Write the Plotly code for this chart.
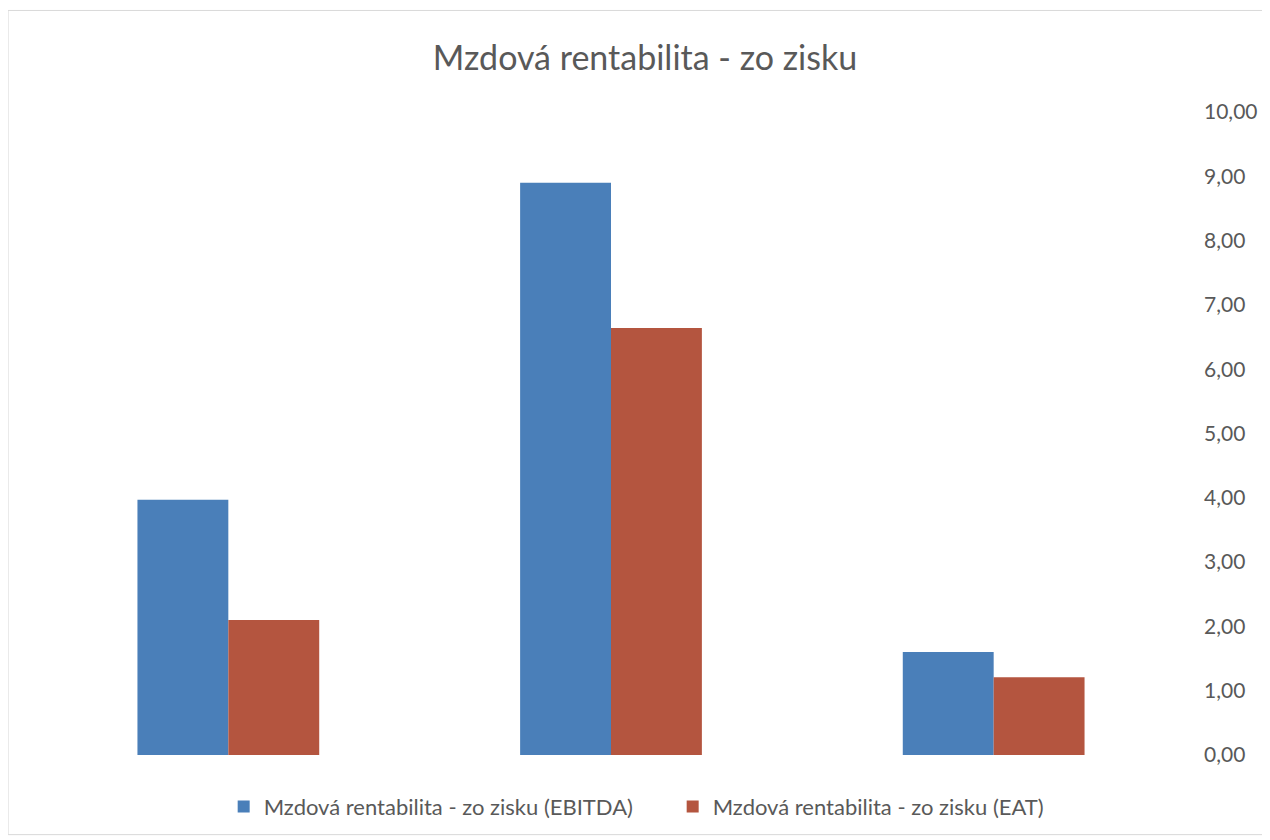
import plotly.graph_objects as go

categories = ["A", "B", "C"]
ebitda = [3.97, 8.90, 1.60]
eat = [2.10, 6.64, 1.21]
series_names = ["Mzdová rentabilita - zo zisku (EBITDA)", "Mzdová rentabilita - zo zisku (EAT)"]
tick_vals = [0, 1, 2, 3, 4, 5, 6, 7, 8, 9, 10]

W, H = 1262, 832
L, T, R, B = 29, 104, 83, 82
pw, ph = W - L - R, H - T - B

fig = go.Figure()
fig.add_trace(go.Bar(x=categories, y=ebitda, name=series_names[0], marker=dict(color="#4a7fb9", line=dict(width=0))))
fig.add_trace(go.Bar(x=categories, y=eat, name=series_names[1], marker=dict(color="#b4553f", line=dict(width=0))))

leg_left_page = 224
fig.update_layout(
    width=W, height=H,
    margin=dict(l=L, r=R, t=T, b=B),
    paper_bgcolor="white", plot_bgcolor="white",
    separators=", ",
    barmode="group", bargap=0.525, bargroupgap=0,
    title=dict(text="Mzdová rentabilita - zo zisku", x=(645 - 8) / W, xanchor="center",
               y=1 - (58 - 8) / H, yanchor="middle",
               font=dict(family="Lato", size=34, color="#595959")),
    font=dict(family="Lato", color="#595959"),
    xaxis=dict(showticklabels=False, showgrid=False, zeroline=False, showline=False, ticks=""),
    yaxis=dict(side="right", range=[0, 10], tickvals=tick_vals, tickformat=".2f",
               showgrid=False, zeroline=False, showline=False, ticks="",
               ticklabelstandoff=18, tickfont=dict(size=21, color="#595959")),
    legend=dict(orientation="h", x=(leg_left_page - 8 - L) / pw, xanchor="left",
                y=-(808 - 756) / ph, yanchor="middle", entrywidth=404, entrywidthmode="pixels",
                font=dict(size=22, color="#595959"), itemwidth=30, traceorder="normal"),
    showlegend=True,
)
fig.add_shape(type="rect", xref="paper", yref="paper",
              x0=(0 - L) / pw, x1=(1259 - L) / pw, y0=-(B - 2) / ph, y1=1 + (T - 2) / ph,
              line=dict(color="#d9d9d9", width=1), fillcolor="rgba(0,0,0,0)", layer="below")
fig.write_html("out.html")
